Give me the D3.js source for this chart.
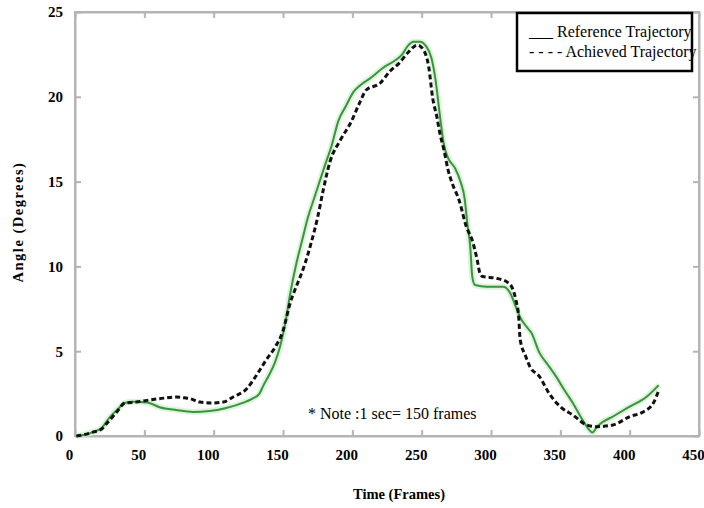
<!DOCTYPE html>
<html>
<head>
<meta charset="utf-8">
<script src="https://cdn.jsdelivr.net/npm/d3@7"></script>
<style>
  html, body { margin: 0; padding: 0; background: #fff; }
  svg { display: block; }
</style>
</head>
<body>
<svg id="chart" width="704" height="508"></svg>
<script>
// ---- data ----
const refFrames = [1, 5, 13, 19, 25, 31, 36, 42, 52, 61, 73, 85, 97, 109, 121, 128, 133, 136, 140, 144, 148, 152, 155, 160, 164, 168, 172, 176, 180, 185, 190, 195, 201, 206, 213, 222, 230, 236, 240, 244, 249, 253, 257, 260, 263, 266, 269, 274, 278, 281, 283, 285, 286.5, 288.5, 297, 309, 314, 318, 321, 326, 329, 335, 341, 347, 353, 359, 366, 371, 373, 377, 388, 400, 412, 421];
const refAngles = [0.0, 0.05, 0.23, 0.45, 1.1, 1.6, 1.95, 2.02, 1.98, 1.7, 1.53, 1.42, 1.47, 1.65, 1.95, 2.2, 2.5, 3.0, 3.6, 4.3, 5.3, 6.8, 8.3, 10.3, 11.6, 12.9, 13.9, 14.9, 15.9, 17.1, 18.6, 19.4, 20.3, 20.7, 21.1, 21.7, 22.1, 22.5, 23.0, 23.25, 23.25, 23.0, 22.3, 21.0, 19.0, 17.2, 16.4, 15.8, 15.0, 14.0, 12.5, 11.2, 9.4, 8.9, 8.8, 8.8, 8.4, 7.6, 7.0, 6.4, 6.1, 4.9, 4.2, 3.5, 2.7, 1.95, 0.95, 0.35, 0.2, 0.6, 1.15, 1.73, 2.3, 3.0];

const achFrames = [1, 5, 13, 19, 23, 30, 36, 44, 52, 61, 73, 79, 83, 90, 99, 107, 114, 124, 131, 138, 144, 150, 155, 159, 162, 166, 170, 175, 179, 184, 191, 199, 205, 210, 220, 227, 234, 240, 247, 251, 255, 258, 261, 263, 266, 269, 272, 277, 282, 287, 290, 292, 294, 304, 313, 316, 318, 320, 321, 325, 328, 335, 342, 350, 359, 369, 376, 388, 400, 410, 417, 421];
const achAngles = [0.0, 0.05, 0.23, 0.4, 0.75, 1.4, 1.95, 2.0, 2.1, 2.2, 2.3, 2.25, 2.2, 2.0, 1.95, 2.0, 2.3, 2.8, 3.6, 4.5, 5.2, 6.2, 7.8, 8.7, 9.3, 10.2, 11.3, 12.9, 14.5, 16.2, 17.4, 18.5, 19.6, 20.4, 20.8, 21.5, 22.0, 22.6, 23.05, 22.8, 21.8, 19.9, 18.8, 17.9, 16.9, 15.7, 14.9, 13.9, 12.4, 11.4, 10.4, 9.6, 9.4, 9.3, 9.0, 8.6, 8.0, 7.0, 5.7, 4.7, 4.1, 3.5, 2.5, 1.73, 1.24, 0.65, 0.55, 0.65, 1.14, 1.43, 1.93, 2.7];

const xTicks = [0, 50, 100, 150, 200, 250, 300, 350, 400, 450];
const yTicks = [0, 5, 10, 15, 20, 25];
const legendLabels = ["___ Reference Trajectory", "- - - - Achieved Trajectory"];
const xTitle = "Time (Frames)";
const yTitle = "Angle (Degrees)";
const noteText = "* Note :1 sec= 150 frames";

// ---- layout ----
const svg = d3.select("#chart");
const plotL = 75, plotR = 699, plotT = 12, plotB = 436;
const x = d3.scaleLinear().domain([0, 450]).range([plotL, plotR]);
const y = d3.scaleLinear().domain([0, 25]).range([plotB, plotT]);

const serif = "'Liberation Serif', 'Times New Roman', Times, serif";
const axisColor = "#b4b4b4";

// frame
svg.append("rect")
  .attr("x", plotL).attr("y", plotT)
  .attr("width", plotR - plotL).attr("height", plotB - plotT)
  .attr("fill", "none").attr("stroke", axisColor).attr("stroke-width", 2);

// axes with inward ticks
const gx = svg.append("g").attr("transform", `translate(0,${plotB})`)
  .call(d3.axisBottom(x).tickValues(xTicks).tickSizeInner(-6).tickSizeOuter(0).tickPadding(13));
const gxTop = svg.append("g").attr("transform", `translate(0,${plotT})`)
  .call(d3.axisTop(x).tickValues(xTicks).tickSizeInner(-6).tickSizeOuter(0).tickFormat(""));
const gy = svg.append("g").attr("transform", `translate(${plotL},0)`)
  .call(d3.axisLeft(y).tickValues(yTicks).tickSizeInner(-6).tickSizeOuter(0).tickPadding(12));
const gyR = svg.append("g").attr("transform", `translate(${plotR},0)`)
  .call(d3.axisRight(y).tickValues(yTicks).tickSizeInner(-6).tickSizeOuter(0).tickFormat(""));

[gx, gxTop, gy, gyR].forEach(g => {
  g.select(".domain").attr("stroke", axisColor).attr("stroke-width", 2);
  g.selectAll(".tick line").attr("stroke", axisColor).attr("stroke-width", 2);
});
gx.selectAll(".tick text")
  .attr("font-family", serif).attr("font-size", 15).attr("font-weight", "bold")
  .attr("fill", "#000").attr("dx", -6);
gy.selectAll(".tick text")
  .attr("font-family", serif).attr("font-size", 15).attr("font-weight", "bold")
  .attr("fill", "#000");

// lines
const refData = refFrames.map((f, i) => [f, refAngles[i]]);
const achData = achFrames.map((f, i) => [f, achAngles[i]]);
const line = d3.line().x(d => x(d[0])).y(d => y(d[1])).curve(d3.curveMonotoneX);

svg.append("path").datum(refData).attr("d", line)
  .attr("fill", "none").attr("stroke", "#cdeecd").attr("stroke-width", 6)
  .attr("stroke-linejoin", "round").attr("opacity", 0.7);
svg.append("path").datum(refData).attr("d", line)
  .attr("fill", "none").attr("stroke", "#3b933b").attr("stroke-width", 2)
  .attr("stroke-linejoin", "round");
svg.append("path").datum(achData).attr("d", line)
  .attr("fill", "none").attr("stroke", "#111").attr("stroke-width", 3)
  .attr("stroke-dasharray", "5,3");

// note
svg.append("text").attr("x", 308).attr("y", 419)
  .attr("font-family", serif).attr("font-size", 16).attr("fill", "#000")
  .text(noteText);

// legend
svg.append("rect").attr("x", 517).attr("y", 13).attr("width", 175).attr("height", 58)
  .attr("fill", "#fff").attr("stroke", "#000").attr("stroke-width", 2.5);
svg.selectAll("text.legend").data(legendLabels).join("text")
  .attr("class", "legend")
  .attr("x", 529).attr("y", (d, i) => 37 + i * 20)
  .attr("font-family", serif).attr("font-size", 16).attr("fill", "#000")
  .text(d => d);

// axis titles
svg.append("text").attr("x", 399).attr("y", 499).attr("text-anchor", "middle")
  .attr("font-family", serif).attr("font-size", 14.5).attr("font-weight", "bold")
  .attr("fill", "#000").text(xTitle);
svg.append("text").attr("transform", "translate(23,222) rotate(-90)")
  .attr("text-anchor", "middle")
  .attr("font-family", serif).attr("font-size", 14.5).attr("font-weight", "bold")
  .attr("letter-spacing", 1.5)
  .attr("fill", "#000").text(yTitle);
</script>
</body>
</html>
